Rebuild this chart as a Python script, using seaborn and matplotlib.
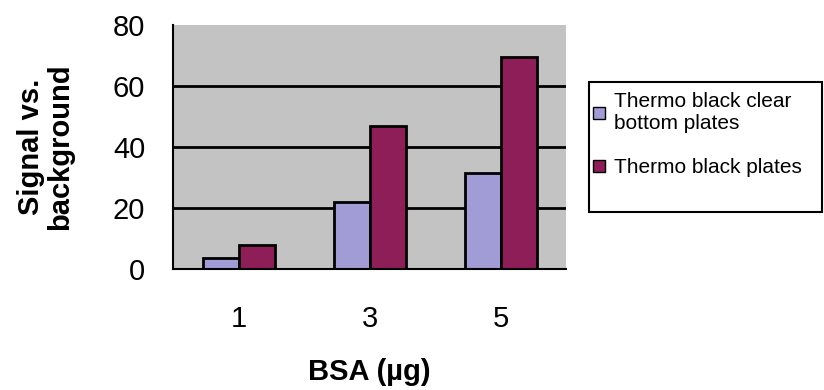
import pandas as pd
import numpy as np
import seaborn as sns
import matplotlib.pyplot as plt
from matplotlib.patches import Rectangle

# データ
bsa = ['1', '3', '5']
clear_bottom = [3.5, 22, 31.5]
black_plates = [8, 47, 69.5]
series = ['Thermo black clear\nbottom plates', 'Thermo black plates']

df = pd.DataFrame({
    'BSA': bsa * 2,
    'value': clear_bottom + black_plates,
    'plate': [series[0]] * 3 + [series[1]] * 3,
})

sns.set_style('white')
plt.rcParams['font.family'] = ['Liberation Sans', 'DejaVu Sans']
plt.rcParams['text.color'] = 'black'
plt.rcParams['axes.labelcolor'] = 'black'
plt.rcParams['xtick.color'] = 'black'
plt.rcParams['ytick.color'] = 'black'

fig = plt.figure(figsize=(8.24, 3.9), dpi=100)
ax = fig.add_axes([0.21, 0.31, 0.477, 0.626])

sns.barplot(data=df, x='BSA', y='value', hue='plate', order=bsa, hue_order=series,
            palette=['#A29CD6', '#8E1E58'], width=0.55, gap=0,
            edgecolor='black', linewidth=2, saturation=1, ax=ax)

ax.set_facecolor('#C3C3C3')
ax.set_ylim(0, 80)
ax.set_xlim(-0.5, 2.5)
ax.set_yticks([0, 20, 40, 60, 80])
ax.yaxis.grid(True, color='black', linewidth=2)
ax.yaxis.get_gridlines()[-1].set_visible(False)
ax.set_axisbelow(True)

# x軸: 目盛りはカテゴリ境界、ラベルは中央
ax.set_xticks([-0.5, 0.5, 1.5, 2.5])
ax.set_xticklabels([])
ax.set_xticks([0, 1, 2], minor=True)
ax.set_xticklabels(bsa, minor=True)
ax.tick_params(axis='x', which='major', direction='out', length=8, width=1.5)
ax.tick_params(axis='x', which='minor', length=0, pad=26, labelsize=21)
ax.tick_params(axis='y', direction='inout', length=16, width=1.5, labelsize=21, pad=12)

for s in ['top', 'right']:
    ax.spines[s].set_visible(False)
for s in ['left', 'bottom']:
    ax.spines[s].set_color('black')
    ax.spines[s].set_linewidth(1.5)

ax.set_xlabel('BSA (µg)', fontsize=21, fontweight='bold', labelpad=18)
ax.set_ylabel('Signal vs.\nbackground', fontsize=21, fontweight='bold', labelpad=28,
              linespacing=1.05)

# 凡例: 枠は下に余白があるので別に描く
leg = ax.legend(loc='upper left', bbox_to_anchor=(589 / 824, 1 - 88 / 390),
                bbox_transform=fig.transFigure, frameon=False,
                fontsize=15, handlelength=0.55, handleheight=0.55,
                handletextpad=0.45, borderpad=0.2, labelspacing=1.2, borderaxespad=0)
for h in leg.legend_handles:
    h.set_linewidth(1)
fig.patches.append(Rectangle((589 / 824, 1 - 212 / 390), 233 / 824, 130 / 390,
                             transform=fig.transFigure, fill=False,
                             edgecolor='black', linewidth=1.5))

fig.savefig('out.png', dpi=100)
